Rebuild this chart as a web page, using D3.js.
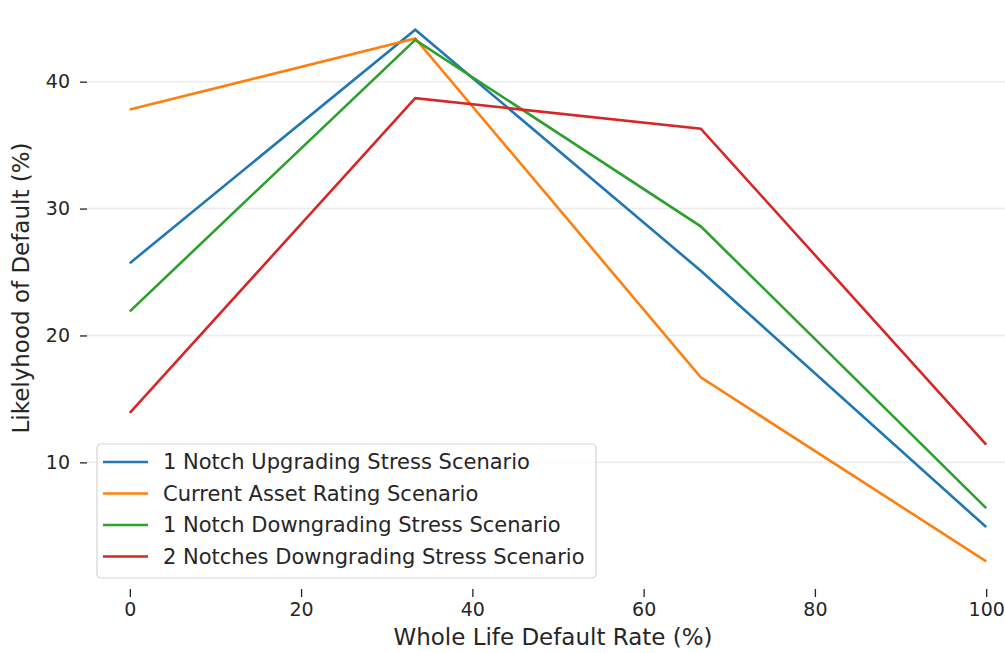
<!DOCTYPE html>
<html>
<head>
<meta charset="utf-8">
<script src="https://cdn.jsdelivr.net/npm/d3@7"></script>
<style>
  body { margin: 0; background: #fff; }
  svg { display: block; font-family: "DejaVu Sans", sans-serif; }
</style>
</head>
<body>
<div id="chart"></div>
<script>
// whole life default rate (%)
const xValues = [0, 33.33, 66.67, 100];

const seriesNames = [
    "1 Notch Upgrading Stress Scenario",
    "Current Asset Rating Scenario",
    "1 Notch Downgrading Stress Scenario",
    "2 Notches Downgrading Stress Scenario"
];
const upgrade1 = [25.7, 44.1, 25.1, 4.9];
const current = [37.8, 43.4, 16.7, 2.2];
const downgrade1 = [21.9, 43.3, 28.6, 6.4];
const downgrade2 = [13.9, 38.7, 36.3, 11.4];
const colors = ["#1f77b4", "#ff7f0e", "#2ca02c", "#d62728"];

const xTicks = [0, 20, 40, 60, 80, 100];
const yTicks = [10, 20, 30, 40];

const width = 1005;
const height = 653;
const margin = {top: 3, bottom: 65, left: 87, right: -24};

const svg = d3.select("#chart")
    .append("svg")
    .attr("width", width)
    .attr("height", height);

const x = d3.scaleLinear()
    .domain([-5, 105])
    .range([margin.left, width - margin.right]);

const y = d3.scaleLinear()
    .domain([0.1, 46.2])
    .range([height - margin.bottom, margin.top]);

// grid
svg.append("g")
    .selectAll("line")
    .data(yTicks)
    .join("line")
        .attr("x1", margin.left)
        .attr("x2", width - margin.right)
        .attr("y1", d => y(d))
        .attr("y2", d => y(d))
        .attr("stroke", "#ebebeb")
        .attr("stroke-width", 1.6);

function yAxis(g) {
    g.attr("transform", `translate(${margin.left}, 0)`)
        .call(d3.axisLeft(y).tickValues(yTicks).tickSize(7).tickPadding(10))
        .attr("font-size", "19px")
        .attr("font-family", "DejaVu Sans, sans-serif")
        .call(g => g.select(".domain").remove())
        .call(g => g.selectAll(".tick line").attr("stroke", "#222").attr("stroke-width", 1.3))
        .call(g => g.selectAll(".tick text").attr("fill", "#262626"));
}

function xAxis(g) {
    g.attr("transform", `translate(0, ${height - margin.bottom + 1})`)
        .call(d3.axisBottom(x).tickValues(xTicks).tickSize(8).tickPadding(6))
        .attr("font-size", "19px")
        .attr("font-family", "DejaVu Sans, sans-serif")
        .call(g => g.select(".domain").remove())
        .call(g => g.selectAll(".tick line").attr("stroke", "#222").attr("stroke-width", 1.3))
        .call(g => g.selectAll(".tick text").attr("fill", "#262626"));
}

svg.append("g").call(xAxis);
svg.append("g").call(yAxis);

// lines
const allSeries = [upgrade1, current, downgrade1, downgrade2];
const line = d3.line()
    .x((d, i) => x(xValues[i]))
    .y(d => y(d));

svg.append("g")
    .selectAll("path")
    .data(allSeries)
    .join("path")
        .attr("d", d => line(d))
        .attr("fill", "none")
        .attr("stroke", (d, i) => colors[i])
        .attr("stroke-width", 2.6)
        .attr("stroke-linejoin", "miter");

// axis labels
svg.append("text")
    .attr("text-anchor", "middle")
    .attr("x", 553)
    .attr("y", 645)
    .attr("font-size", "23px")
    .attr("fill", "#262626")
    .text("Whole Life Default Rate (%)");

svg.append("text")
    .attr("text-anchor", "middle")
    .attr("transform", "translate(29, 288) rotate(-90)")
    .attr("font-size", "23px")
    .attr("fill", "#262626")
    .text("Likelyhood of Default (%)");

// legend
const legend = svg.append("g").attr("transform", "translate(97, 444)");
legend.append("rect")
    .attr("width", 499)
    .attr("height", 134)
    .attr("rx", 4)
    .attr("fill", "#fff")
    .attr("fill-opacity", 0.8)
    .attr("stroke", "#d5d5d5")
    .attr("stroke-width", 1.2);

const rows = legend.selectAll("g.row")
    .data(seriesNames)
    .join("g")
        .attr("class", "row")
        .attr("transform", (d, i) => `translate(0, ${18 + i * 31.5})`);

rows.append("line")
    .attr("x1", 6)
    .attr("x2", 51)
    .attr("stroke", (d, i) => colors[i])
    .attr("stroke-width", 2.6);

rows.append("text")
    .attr("x", 66)
    .attr("dy", "0.35em")
    .attr("font-size", "21px")
    .attr("fill", "#262626")
    .text(d => d);
</script>
</body>
</html>
